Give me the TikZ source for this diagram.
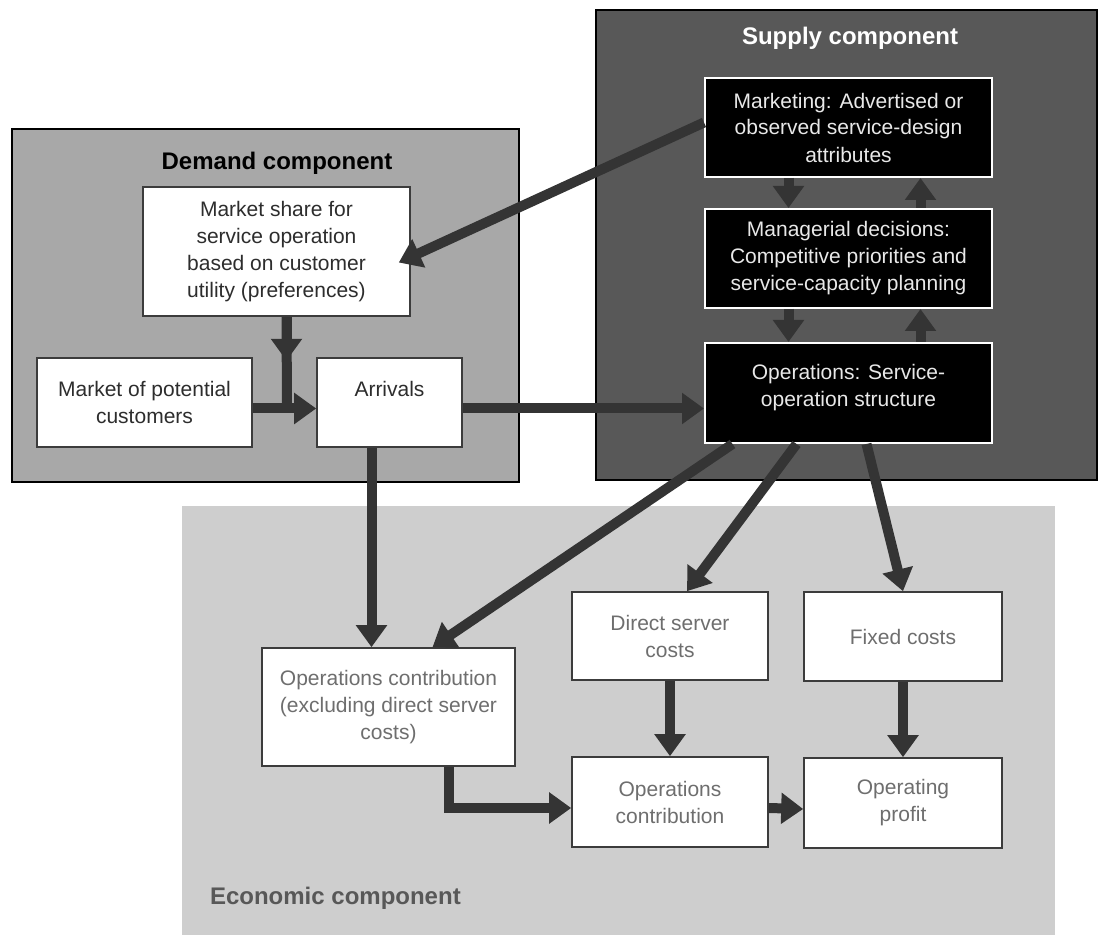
\documentclass[tikz,border=0pt]{standalone}
\usepackage{fontspec}
\setmainfont{Liberation Sans}
\usepackage{tikz}
\usetikzlibrary{arrows.meta}
\definecolor{supplybg}{RGB}{88,88,88}
\definecolor{demandbg}{RGB}{168,168,168}
\definecolor{econbg}{RGB}{206,206,206}
\definecolor{arrowgrey}{RGB}{52,52,52}
\definecolor{boxline}{RGB}{60,60,60}
\definecolor{demandtxt}{RGB}{45,45,45}
\definecolor{econtxt}{RGB}{110,110,110}
\definecolor{supplytxt}{RGB}{232,232,232}

\begin{document}
\begin{tikzpicture}[x=0.5pt,y=-0.5pt,
  every node/.style={font=\fontsize{10.5}{13.5}\selectfont},
  region/.style={draw=black,line width=0.8pt},
  title/.style={font=\fontsize{12}{14}\selectfont\bfseries},
  dbox/.style={draw=boxline,fill=white,line width=0.8pt,align=center,inner sep=2pt,text=demandtxt},
  ebox/.style={draw=boxline,fill=white,line width=0.8pt,align=center,inner sep=2pt,text=econtxt},
  sbox/.style={draw=white,fill=black,line width=1pt,align=center,inner sep=2pt,text=supplytxt,minimum width=143.5pt,minimum height=49.5pt},
  flow/.style={draw=arrowgrey,line width=5pt,-{Triangle[width=15pt,length=11pt]}},
  flowline/.style={draw=arrowgrey,line width=5pt}]
\useasboundingbox (0,0) rectangle (1099,935);
\fill[econbg] (182,506) rectangle (1055,935);
\path[region,fill=supplybg] (596,10) rectangle (1097,480);
\path[region,fill=demandbg] (12,129) rectangle (519,482);
\node[title,text=white] (tsup) at (850,38) {Supply component};
\node[title,text=black] (tdem) at (277,163) {Demand component};
\node[title,text=econtxt!80!black,anchor=west] (teco) at (203,898) {Economic component};
\node[sbox] (mkt) at (848.5,127.5) {Marketing: Advertised or\\observed service-design\\attributes};
\node[sbox] (mgr) at (848.5,258.5) {Managerial decisions:\\Competitive priorities and\\service-capacity planning};
\node[sbox,minimum height=50pt] (ops) at (848.5,393) {Operations: Service-\\operation structure\\[-6pt]\mbox{}};
\node[dbox,minimum width=133.5pt,minimum height=64.5pt] (ms) at (276.5,251.5) {Market share for\\service operation\\based on customer\\utility (preferences)};
\node[dbox,minimum width=107.5pt,minimum height=44.5pt] (pot) at (144.5,402.5) {Market of potential\\customers};
\node[dbox,minimum width=72.5pt,minimum height=44.5pt] (arr) at (389.5,402.5) {Arrivals\\\mbox{}};
\node[ebox,minimum width=126.5pt,minimum height=59pt] (oce) at (388.5,707) {Operations contribution\\(excluding direct server\\costs)};
\node[ebox,minimum width=98pt,minimum height=44pt] (dsc) at (670,636) {Direct server\\costs};
\node[ebox,minimum width=99pt,minimum height=44.5pt] (fix) at (903,636.5) {Fixed costs};
\node[ebox,minimum width=98pt,minimum height=45pt] (oc) at (670,802) {Operations\\contribution};
\node[ebox,minimum width=99pt,minimum height=45pt] (op) at (903,803) {Operating\\profit};
\coordinate (jn) at (287,408);
\draw[flow] ([xshift=-30pt]mkt.south) -- ([xshift=-30pt]mgr.north);
\draw[flow] ([xshift=36pt]mgr.north) -- ([xshift=36pt]mkt.south);
\draw[flow] ([xshift=-30pt]mgr.south) -- ([xshift=-30pt]ops.north);
\draw[flow] ([xshift=36pt]ops.north) -- ([xshift=36pt]mgr.south);
\draw[flow] ([yshift=2.5pt]mkt.west) -- ([xshift=-6pt,yshift=-5.5pt]ms.east);
\draw[flowline] ([xshift=5pt]ms.south) -- (jn);
\draw[flow] ([xshift=5pt]ms.south) -- ++(0,44);
\draw[flow] ([yshift=-3pt]pot.east) -- ([yshift=-3pt]pot.east -| arr.west);
\draw[flow] ([yshift=-3pt]arr.east) -- ([yshift=-3pt]arr.east -| ops.west);
\draw[flow] ([xshift=-9pt]arr.south) -- ([xshift=-9pt]arr.south |- oce.north);
\draw[flow] ([xshift=-58pt]ops.south) -- ([xshift=22pt]oce.north);
\draw[flow] ([xshift=-26pt]ops.south) -- ([xshift=8.5pt]dsc.north);
\draw[flow] ([xshift=9pt]ops.south) -- (fix.north);
\draw[flow] (dsc) -- (oc);
\draw[flow] (fix) -- (op);
\draw[flow] ([xshift=30pt]oce.south) |- ([yshift=-3pt]oc.west);
\draw[flow] ([yshift=-3pt]oc.east) -- ([yshift=-3pt]op.west);
\end{tikzpicture}
\end{document}
